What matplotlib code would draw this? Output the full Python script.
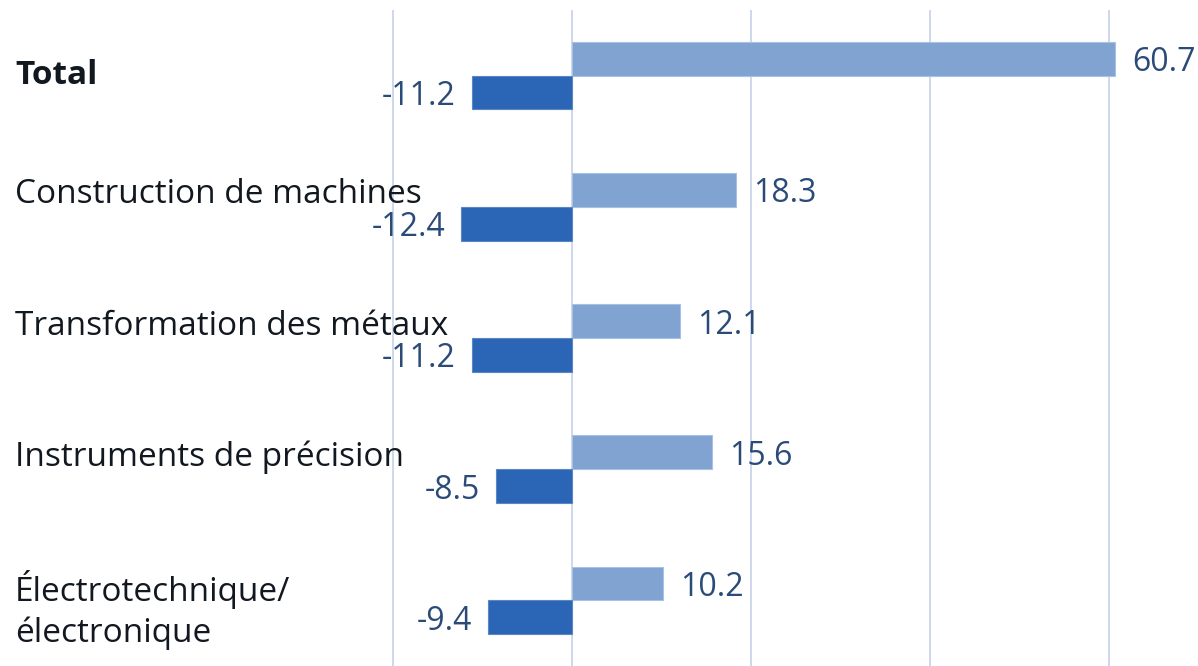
import matplotlib.pyplot as plt
import numpy as np

categories = ['Total', 'Construction de machines', 'Transformation des métaux',
              'Instruments de précision', 'Électrotechnique/\nélectronique']
positives = [60.7, 18.3, 12.1, 15.6, 10.2]
negatives = [-11.2, -12.4, -11.2, -8.5, -9.4]

plt.rcParams['font.family'] = ['Open Sans', 'Noto Sans', 'DejaVu Sans']

fig = plt.figure(figsize=(11.98, 6.66), dpi=100)
ax = fig.add_axes([0, 0, 1, 1 - 10 / 666])

y = np.arange(len(categories))
h = 0.258
light = '#80a3d2'
dark = '#2b65b5'
txt = '#2a4a78'

ax.barh(y - h / 2, positives, h, color=light, edgecolor='#a9c1e2', linewidth=0.8, zorder=2)
ax.barh(y + h / 2, negatives, h, color=dark, edgecolor='#5b87c7', linewidth=0.8, zorder=2)

for i in range(len(categories)):
    ax.text(positives[i] + 1.9, y[i] - h / 2 + 0.03, f'{positives[i]:.1f}', va='center', ha='left',
            fontsize=23, color=txt)
    ax.text(negatives[i] - 1.8, y[i] + h / 2 + 0.03, f'{negatives[i]:.1f}', va='center', ha='right',
            fontsize=23, color=txt)
    if i == 0:
        dy = 0
    elif '\n' in categories[i]:
        dy = 0.07
    else:
        dy = -0.09
    ax.text(-62.3, y[i] + dy, categories[i], va='center', ha='left', fontsize=24,
            fontweight='bold' if i == 0 else 'normal', color='#111820', linespacing=1.3, zorder=3)

ax.set_xlim(-64, 70)
ax.set_ylim(len(categories) - 0.5, -0.5)
ax.set_xticks([-20, 0, 20, 40, 60])
ax.grid(axis='x', color='#c9d7ea', linewidth=1.3, zorder=0)
ax.tick_params(length=0, labelbottom=False, labelleft=False)
for s in ax.spines.values():
    s.set_visible(False)

fig.savefig('out.png', dpi=100)
